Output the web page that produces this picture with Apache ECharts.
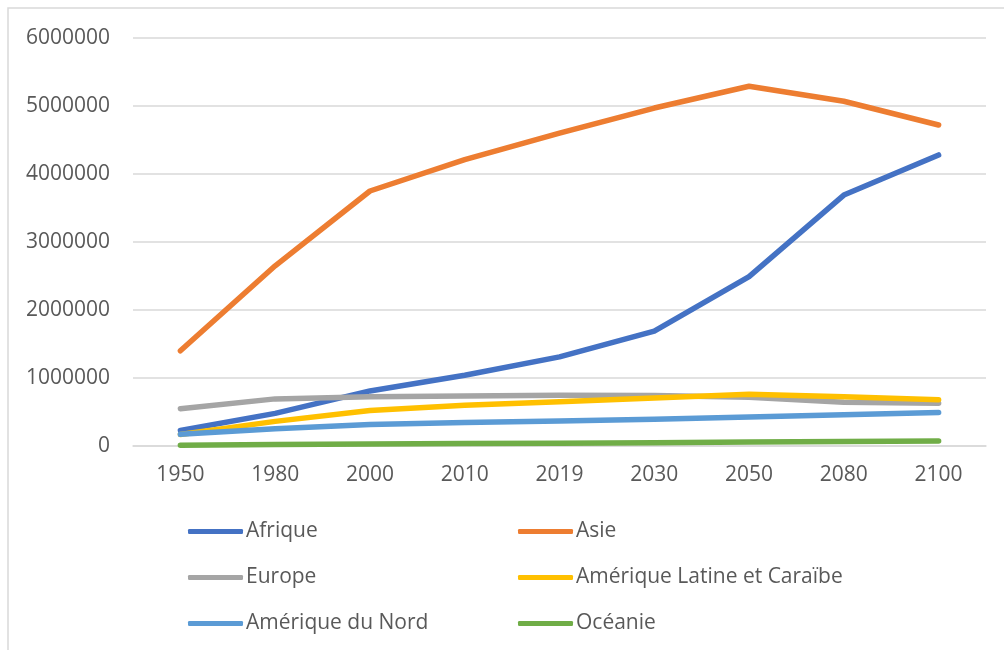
<!DOCTYPE html>
<html>
<head>
<meta charset="utf-8">
<script src="https://cdn.jsdelivr.net/npm/echarts@6/dist/echarts.min.js"></script>
<style>
html,body{margin:0;padding:0;background:#fff;}
#chart{width:1004px;height:650px;}
</style>
</head>
<body>
<div id="chart"></div>
<script>
const years = ['1950','1980','2000','2010','2019','2030','2050','2080','2100'];
const afrique = [228000, 480000, 810000, 1040000, 1310000, 1690000, 2490000, 3690000, 4280000];
const asie = [1400000, 2650000, 3750000, 4210000, 4600000, 4970000, 5290000, 5070000, 4720000];
const europe = [549000, 693000, 726000, 736000, 747000, 741000, 716000, 645000, 630000];
const ameriqueLatine = [169000, 362000, 521000, 598000, 650000, 705000, 760000, 725000, 680000];
const ameriqueNord = [173000, 255000, 315000, 345000, 367000, 392000, 425000, 460000, 491000];
const oceanie = [12700, 23000, 31000, 37000, 42000, 48000, 57000, 67000, 75000];
const yTicks = [0, 1000000, 2000000, 3000000, 4000000, 5000000, 6000000];

const seriesDefs = [
  ['Afrique', afrique, '#4472C4'],
  ['Asie', asie, '#ED7D31'],
  ['Europe', europe, '#A5A5A5'],
  ['Amérique Latine et Caraïbe', ameriqueLatine, '#FFC000'],
  ['Amérique du Nord', ameriqueNord, '#5B9BD5'],
  ['Océanie', oceanie, '#70AD47']
];

const FONT = '"Open Sans", sans-serif';
const TXT = '#595959';
const FS = 21;

const chart = echarts.init(document.getElementById('chart'), null, {renderer: 'canvas'});
const legendCommon = {
  orient: 'vertical',
  top: 521,
  padding: 0,
  itemGap: 25,
  itemWidth: 55,
  itemHeight: 5,
  icon: 'roundRect',
  textStyle: {color: TXT, fontSize: FS, fontFamily: FONT, padding: [0, 0, 0, -2]}
};
chart.setOption({
  animation: false,
  graphic: [{
    type: 'rect',
    shape: {x: 8, y: 8, width: 1100, height: 800},
    style: {fill: 'none', stroke: '#d9d9d9', lineWidth: 1.5},
    silent: true
  }],
  grid: {left: 133, right: 18, top: 38, bottom: 204},
  legend: [
    Object.assign({}, legendCommon, {left: 188, data: ['Afrique', 'Europe', 'Amérique du Nord']}),
    Object.assign({}, legendCommon, {left: 518, data: ['Asie', 'Amérique Latine et Caraïbe', 'Océanie']})
  ],
  xAxis: {
    type: 'category',
    data: years,
    boundaryGap: true,
    axisLine: {lineStyle: {color: '#d9d9d9', width: 1.5}},
    axisTick: {show: false},
    axisLabel: {color: TXT, fontSize: FS, fontFamily: FONT, margin: 19}
  },
  yAxis: {
    type: 'value',
    min: yTicks[0],
    max: yTicks[yTicks.length - 1],
    interval: 1000000,
    axisLine: {show: false},
    axisTick: {show: false},
    splitLine: {lineStyle: {color: '#d9d9d9', width: 1.5}},
    axisLabel: {color: TXT, fontSize: FS, fontFamily: FONT, margin: 23, formatter: v => String(v)}
  },
  series: seriesDefs.map(([name, data, color]) => ({
    name: name,
    type: 'line',
    data: data,
    color: color,
    showSymbol: false,
    symbol: 'none',
    lineStyle: {width: 5.5, color: color, cap: 'round', join: 'round'},
    itemStyle: {color: color}
  }))
});
</script>
</body>
</html>
